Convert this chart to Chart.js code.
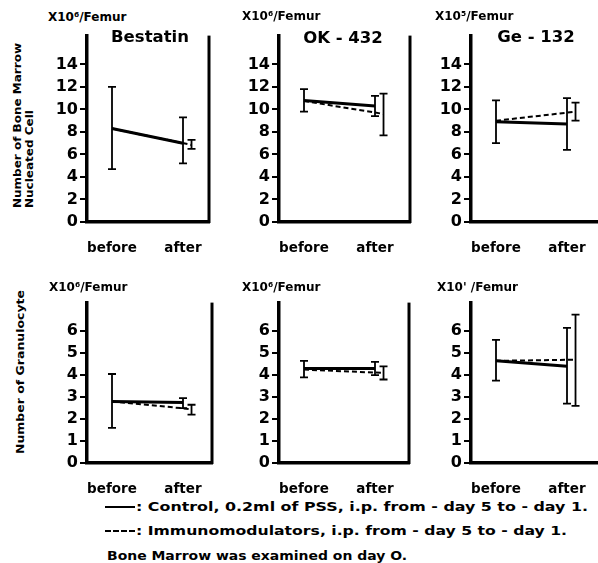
<!DOCTYPE html>
<html><head><meta charset="utf-8">
<script src="https://cdn.jsdelivr.net/npm/chart.js@4/dist/chart.umd.min.js"></script>
<style>
body{margin:0;width:598px;height:563px;background:#fff;position:relative;overflow:hidden;font-family:"DejaVu Sans",Arial,sans-serif;font-weight:bold;color:#000}
canvas{position:absolute}
.t{position:absolute;white-space:nowrap;line-height:1}
.ln{position:absolute;width:30px;height:0}
</style></head><body>
<div class="ln" style="left:105px;top:506px;border-top:2.5px solid #000"></div>
<div class="ln" style="left:105px;top:530px;border-top:2px dashed #000"></div>
<script>
// ---- data ----
const categories = ["before", "after"];
const panelTitles = ["Bestatin", "OK - 432", "Ge - 132", "", "", ""];
const unitLabels = ["X10\u2076/Femur", "X10\u2076/Femur", "X10\u2075/Femur", "X10\u2076/Femur", "X10\u2076/Femur", "X10' /Femur"];
const yTicksMarrow = [0, 2, 4, 6, 8, 10, 12, 14];
const yTicksGranulocyte = [0, 1, 2, 3, 4, 5, 6];
// per panel: [before, after]
const controlMean = [[8.3, 7.0], [10.8, 10.3], [8.9, 8.7], [2.8, 2.75], [4.3, 4.3], [4.65, 4.4]];
const controlLow  = [[4.7, 5.2], [9.8, 9.4], [7.0, 6.4], [1.6, 2.5], [3.9, 4.0], [3.75, 2.7]];
const controlHigh = [[12.0, 9.3], [11.8, 11.2], [10.8, 11.0], [4.05, 2.95], [4.65, 4.6], [5.6, 6.15]];
const immunoMean  = [[8.3, 6.85], [10.75, 9.6], [9.0, 9.8], [2.8, 2.45], [4.25, 4.1], [4.65, 4.7]];
const immunoLow   = [[null, 6.5], [null, 7.7], [null, 9.0], [null, 2.2], [null, 3.8], [null, 2.6]];
const immunoHigh  = [[null, 7.3], [null, 11.4], [null, 10.6], [null, 2.65], [null, 4.4], [null, 6.75]];

// ---- layout ----
const panels = [
  {axisX: 87,  right: 209, top: 28,  bottom: 222, ymax: 16.56, ticks: yTicksMarrow},
  {axisX: 279, right: 410, top: 28,  bottom: 222, ymax: 16.56, ticks: yTicksMarrow},
  {axisX: 471, right: 603, top: 28,  bottom: 222, ymax: 16.56, ticks: yTicksMarrow},
  {axisX: 87,  right: 212, top: 295, bottom: 463, ymax: 7.3, ticks: yTicksGranulocyte},
  {axisX: 279, right: 409, top: 295, bottom: 463, ymax: 7.3, ticks: yTicksGranulocyte},
  {axisX: 471, right: 603, top: 295, bottom: 463, ymax: 7.3, ticks: yTicksGranulocyte}
];
const unitPos = [[48, 11], [242, 10], [435, 10], [49, 281], [242, 281], [437, 281]];
const titlePos = [[150, 37], [343, 38], [536, 37]];
const Y_W = 48, X_H = 32, PAD_T = 4, PAD_R = 4;
const PX_UNIT = 71, FIRST_OFF = 25, DODGE = 0.12;

function text(str, x, y, size, opt = {}) {
  const d = document.createElement('div');
  d.className = 't';
  d.textContent = str;
  d.style.fontSize = size + 'px';
  document.body.appendChild(d);
  const w = d.getBoundingClientRect().width;
  let sx = opt.width ? opt.width / w : 1;
  if (opt.rot) {
    d.style.left = x + 'px'; d.style.top = y + 'px';
    d.style.transformOrigin = '0 0';
    d.style.transform = 'rotate(-90deg) scaleX(' + sx + ')';
  } else {
    const h = d.getBoundingClientRect().height;
    const left = opt.center ? x - (w * sx) / 2 : x;
    d.style.left = left + 'px'; d.style.top = (y - h / 2) + 'px';
    d.style.transformOrigin = '0 50%';
    d.style.transform = 'scaleX(' + sx + ')';
  }
  return d;
}

const errorBars = {
  id: 'errorBars',
  afterDatasetsDraw(chart) {
    const ctx = chart.ctx, ys = chart.scales.y;
    chart.data.datasets.forEach((ds, di) => {
      const meta = chart.getDatasetMeta(di);
      meta.data.forEach((pt, i) => {
        const lo = ds.errLow[i], hi = ds.errHigh[i];
        if (lo == null || hi == null) return;
        const yl = ys.getPixelForValue(lo), yh = ys.getPixelForValue(hi);
        ctx.save();
        ctx.strokeStyle = '#000';
        ctx.lineWidth = 1.8;
        ctx.beginPath();
        ctx.moveTo(pt.x, yl); ctx.lineTo(pt.x, yh);
        ctx.moveTo(pt.x - 4, yl); ctx.lineTo(pt.x + 4, yl);
        ctx.moveTo(pt.x - 4, yh); ctx.lineTo(pt.x + 4, yh);
        ctx.stroke();
        ctx.restore();
      });
    });
  }
};
const rightBorder = {
  id: 'rightBorder',
  afterDraw(chart) {
    const a = chart.chartArea, ctx = chart.ctx;
    ctx.save();
    ctx.strokeStyle = '#000'; ctx.lineWidth = 3;
    ctx.beginPath(); ctx.moveTo(a.right, a.top); ctx.lineTo(a.right, a.bottom + 1); ctx.stroke();
    ctx.restore();
  }
};

panels.forEach((p, k) => {
  const plotW = p.right - p.axisX, plotH = p.bottom - p.top;
  const cv = document.createElement('canvas');
  const W = Y_W + plotW + PAD_R, H = PAD_T + plotH + X_H;
  cv.width = W; cv.height = H;
  cv.style.left = (p.axisX - Y_W) + 'px';
  cv.style.top = (p.top - PAD_T) + 'px';
  cv.style.width = W + 'px'; cv.style.height = H + 'px';
  document.body.appendChild(cv);
  const xmin = 1 - FIRST_OFF / PX_UNIT, xmax = xmin + plotW / PX_UNIT;
  const tickFont = {family: '"DejaVu Sans", Arial, sans-serif', weight: 'bold', size: 16};
  new Chart(cv, {
    type: 'line',
    data: {
      datasets: [
        {label: 'Control', data: categories.map((c, i) => ({x: i + 1, y: controlMean[k][i]})),
         borderColor: '#000', borderWidth: 3, pointRadius: 0, fill: false, tension: 0,
         errLow: controlLow[k], errHigh: controlHigh[k]},
        {label: 'Immunomodulators', data: categories.map((c, i) => ({x: i + 1 + (i ? DODGE : 0), y: immunoMean[k][i]})),
         borderColor: '#000', borderWidth: 2, borderDash: [5, 3], pointRadius: 0, fill: false, tension: 0,
         errLow: immunoLow[k], errHigh: immunoHigh[k]}
      ]
    },
    options: {
      responsive: false, animation: false, devicePixelRatio: 1,
      layout: {padding: {top: PAD_T, right: PAD_R, left: 0, bottom: 0}},
      plugins: {legend: {display: false}, tooltip: {enabled: false}, title: {display: false}},
      scales: {
        x: {type: 'linear', min: xmin, max: xmax,
            afterBuildTicks: s => { s.ticks = categories.map((c, i) => ({value: i + 1})); },
            afterFit: s => { s.height = X_H; },
            ticks: {callback: (v, i) => categories[i], color: '#000', maxRotation: 0, autoSkip: false, padding: 10,
                    font: {family: '"DejaVu Sans", Arial, sans-serif', weight: 'bold', size: 13.5}},
            grid: {display: false},
            border: {display: true, width: 3.5, color: '#000'}},
        y: {min: 0, max: p.ymax,
            afterBuildTicks: s => { s.ticks = p.ticks.map(v => ({value: v})); },
            afterFit: s => { s.width = Y_W; },
            ticks: {color: '#000', padding: 2, font: tickFont},
            grid: {drawOnChartArea: false, drawTicks: true, tickLength: 7, color: '#000', lineWidth: 2},
            border: {display: true, width: 3.5, color: '#000'}}
      }
    },
    plugins: [errorBars, rightBorder]
  });
  text(unitLabels[k], unitPos[k][0], unitPos[k][1] + 6, 12);
  if (panelTitles[k]) text(panelTitles[k], titlePos[k][0], titlePos[k][1], 16.5, {center: true});
});

// axis titles (rotated)
text("Number of Bone Marrow", 12, 208, 11, {rot: true, width: 165});
text("Nucleated Cell", 24, 208, 11, {rot: true, width: 98});
text("Number of Granulocyte", 15, 454, 11, {rot: true, width: 164});
// legend
text(": Control, 0.2ml of PSS, i.p. from - day 5 to - day 1.", 136, 507, 12.5, {width: 452});
text(": Immunomodulators, i.p. from - day 5 to - day 1.", 136, 531, 12.5, {width: 431});
text("Bone Marrow was examined on day O.", 107, 556, 12.5, {width: 300});
</script>
</body></html>
